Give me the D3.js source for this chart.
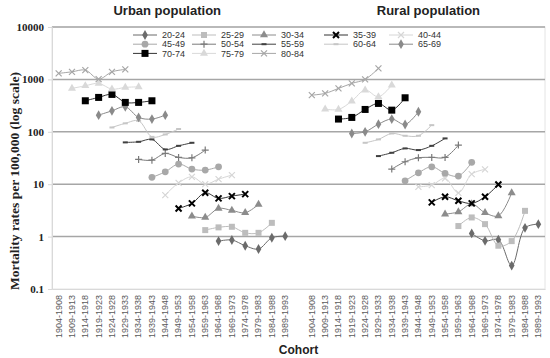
<!DOCTYPE html>
<html lang="en">
<head>
<meta charset="UTF-8">
<title>Mortality by cohort</title>
<script src="https://cdnjs.cloudflare.com/ajax/libs/d3/7.8.5/d3.min.js"></script>
<style>
  body { margin: 0; background: #fff; }
  .xtick { font: 9px "Liberation Sans", Arial, sans-serif; fill: #595959; }
  .ytick { font: bold 11px "Liberation Serif", "Times New Roman", serif; fill: #222; }
  .legend text { font: 9px "Liberation Sans", Arial, sans-serif; fill: #333; }
</style>
</head>
<body>
<div id="chart"></div>
<script>
// cohorts (birth years), same list for both panels
const cohorts = ["1904-1908","1909-1913","1914-1918","1919-1923","1924-1928","1929-1933",
  "1934-1938","1939-1943","1944-1948","1949-1953","1954-1958","1959-1963","1964-1968",
  "1969-1973","1974-1978","1979-1983","1984-1988","1989-1993"];

const ageGroups = ["20-24","25-29","30-34","35-39","40-44","45-49","50-54",
  "55-59","60-64","65-69","70-74","75-79","80-84"];

// six observations per age group, starting at the first cohort it covers
const urbanValues = [
  [0.82, 0.86, 0.67, 0.58, 0.95, 1.02],
  [1.33, 1.5, 1.54, 1.18, 1.18, 1.83],
  [2.46, 2.32, 3.45, 3.16, 2.85, 4.11],
  [3.45, 4.3, 6.85, 5.36, 5.93, 6.47],
  [6.2, 10.6, 13.8, 10, 12.5, 14.9],
  [13.5, 17.2, 24.2, 19.4, 18.6, 21.5],
  [29.7, 28.8, 38.7, 32.5, 31.9, 44.8],
  [62.8, 64.4, 71.6, 46.1, 54, 61.7],
  [121, 145, 162, 80, 89, 113],
  [208, 251, 300, 188, 175, 208],
  [391, 453, 517, 364, 364, 391],
  [673, 755, 839, 653, 703, 722],
  [1303, 1396, 1505, 1014, 1396, 1550]
];

const ruralValues = [
  [1.15, 0.83, 0.87, 0.28, 1.47, 1.73],
  [1.59, 2.32, 1.73, 0.67, 0.82, 3.1],
  [2.69, 2.97, 4.2, 2.85, 2.49, 6.85],
  [4.5, 5.75, 4.82, 4.3, 5.75, 9.9],
  [8.9, 9.6, 12.9, 6.85, 15.6, 19.2],
  [11.6, 16.5, 21.5, 16.1, 14.3, 26.1],
  [19.4, 26.8, 31.9, 32.5, 32.5, 55.7],
  [34.4, 39.8, 48.2, 44.8, 54, 74.8],
  [61.7, 71.6, 93, 84, 84, 134],
  [93, 100, 140, 175, 138, 241],
  [175, 188, 267, 348, 259, 446],
  [271, 267, 385, 625, 466, 778],
  [501, 541, 673, 839, 1000, 1622]
];

const yTicks = [0.1, 1, 10, 100, 1000, 10000];

// marker styles per age group
const styles = [
  { color: "#6b6b6b", marker: "diamond" },
  { color: "#bdbdbd", marker: "square" },
  { color: "#8c8c8c", marker: "triangle" },
  { color: "#000000", marker: "cross", line: "#333", bold: true },
  { color: "#d6d6d6", marker: "cross" },
  { color: "#a8a8a8", marker: "circle" },
  { color: "#7a7a7a", marker: "plus" },
  { color: "#404040", marker: "dash" },
  { color: "#c6c6c6", marker: "dash" },
  { color: "#8a8a8a", marker: "diamond" },
  { color: "#000000", marker: "bigsquare", line: "#333" },
  { color: "#d9d9d9", marker: "triangle" },
  { color: "#a6a6a6", marker: "cross" }
];

const width = 550, height = 358;
const margin = { top: 27, right: 5, bottom: 69, left: 52 };

const svg = d3.select("#chart").append("svg")
  .attr("width", width).attr("height", height);

// one category axis: urban cohorts, an empty slot, rural cohorts
const keys = cohorts.map(c => "U" + c).concat(["gap"], cohorts.map(c => "R" + c));
const x = d3.scaleBand().domain(keys).range([margin.left, width - margin.right]).padding(0);
const y = d3.scaleLog().domain([0.1, 10000]).range([height - margin.bottom, margin.top]);
const cx = k => x(k) + x.bandwidth() / 2;

// plot border
svg.append("rect")
  .attr("x", margin.left).attr("y", margin.top)
  .attr("width", width - margin.left - margin.right)
  .attr("height", height - margin.top - margin.bottom)
  .attr("fill", "none").attr("stroke", "#e4e4e4");

// gridlines
svg.append("g").selectAll("line")
  .data(yTicks.filter(t => t > 0.1))
  .join("line")
  .attr("x1", margin.left).attr("x2", width - margin.right)
  .attr("y1", d => y(d)).attr("y2", d => y(d))
  .attr("stroke", "#a6a6a6").attr("stroke-width", 1.5);

// y axis
const yAxis = svg.append("g")
  .attr("transform", `translate(${margin.left},0)`)
  .call(d3.axisLeft(y).tickValues(yTicks).tickFormat(d => d < 1 ? "0.1" : d3.format("d")(d)).tickSize(4).tickPadding(4));
yAxis.select(".domain").attr("stroke", "#d9d9d9");
yAxis.selectAll(".tick line").attr("stroke", "#d9d9d9");
yAxis.selectAll("text").attr("class", "ytick").attr("fill", null);

// x axis
const xAxis = svg.append("g")
  .attr("transform", `translate(0,${height - margin.bottom})`)
  .call(d3.axisBottom(x).tickFormat(k => k === "gap" ? "" : k.slice(1)).tickSize(0));
xAxis.select(".domain").attr("stroke", "#d9d9d9");
xAxis.selectAll("text")
  .attr("class", "xtick").attr("fill", null)
  .attr("transform", "rotate(-90)")
  .attr("text-anchor", "end")
  .attr("dx", "-6px").attr("dy", "0.32em")
  .attr("x", 0).attr("y", 0);

// marker shapes
function drawMarker(g, s) {
  const c = s.color;
  switch (s.marker) {
    case "diamond":
      g.append("path").attr("d", d3.symbol(d3.symbolDiamond, 28)()).attr("fill", c); break;
    case "square":
      g.append("rect").attr("x", -3).attr("y", -3).attr("width", 6).attr("height", 6).attr("fill", c); break;
    case "bigsquare":
      g.append("rect").attr("x", -3.5).attr("y", -3.5).attr("width", 7).attr("height", 7).attr("fill", c); break;
    case "triangle":
      g.append("path").attr("d", d3.symbol(d3.symbolTriangle, 28)()).attr("fill", c); break;
    case "circle":
      g.append("circle").attr("r", 3.4).attr("fill", c); break;
    case "cross":
      g.append("path").attr("d", "M-3,-3L3,3M-3,3L3,-3")
        .attr("stroke", c).attr("stroke-width", s.bold ? 2 : 1.2); break;
    case "plus":
      g.append("path").attr("d", "M-3.5,0L3.5,0M0,-3.5L0,3.5").attr("stroke", c).attr("stroke-width", 1.2); break;
    case "dash":
      g.append("path").attr("d", "M-2.5,0L2.5,0").attr("stroke", c).attr("stroke-width", 2); break;
  }
}

const line = d3.line().x(d => d.x).y(d => d.y).curve(d3.curveCatmullRom.alpha(0.5));

function drawPanel(prefix, values) {
  values.forEach((vals, a) => {
    const start = ageGroups.length - 1 - a;
    const s = styles[a];
    const pts = vals.map((v, i) => ({ x: cx(prefix + cohorts[start + i]), y: y(v) }));
    const g = svg.append("g");
    g.append("path").attr("d", line(pts))
      .attr("fill", "none").attr("stroke", s.line || s.color).attr("stroke-width", 1);
    pts.forEach(p => drawMarker(g.append("g").attr("transform", `translate(${p.x},${p.y})`), s));
  });
}
drawPanel("U", urbanValues);
drawPanel("R", ruralValues);

// legend, 5 columns
const colX = [162, 221, 281, 353, 418];
const legend = svg.append("g").attr("class", "legend");
ageGroups.forEach((ag, i) => {
  const col = i % 5, row = Math.floor(i / 5);
  const tx = colX[col], ty = 35 + row * 9.2;
  const g = legend.append("g");
  g.append("line").attr("x1", tx - 29).attr("x2", tx - 5).attr("y1", ty).attr("y2", ty)
    .attr("stroke", styles[i].line || styles[i].color).attr("stroke-width", 1);
  drawMarker(g.append("g").attr("transform", `translate(${tx - 17},${ty})`), styles[i]);
  g.append("text").attr("x", tx).attr("y", ty).attr("dy", "0.35em").text(ag);
});

// titles
svg.append("text").attr("x", cx("U1944-1948") + 2).attr("y", 15)
  .attr("text-anchor", "middle")
  .style("font", "bold 13px 'Liberation Sans', Arial, sans-serif").style("fill", "#222")
  .text("Urban population");
svg.append("text").attr("x", cx("R1944-1948") + 10).attr("y", 15)
  .attr("text-anchor", "middle")
  .style("font", "bold 13px 'Liberation Sans', Arial, sans-serif").style("fill", "#222")
  .text("Rural population");

svg.append("text")
  .attr("transform", "translate(19,181) rotate(-90)")
  .attr("text-anchor", "middle")
  .style("font", "bold 13.5px 'Liberation Serif', 'Times New Roman', serif").style("fill", "#222")
  .text("Mortality rates per 100,000 (log scale)");

svg.append("text").attr("x", cx("gap")).attr("y", 354)
  .attr("text-anchor", "middle")
  .style("font", "bold 12px 'Liberation Sans', Arial, sans-serif").style("fill", "#222")
  .text("Cohort");
</script>
</body>
</html>
